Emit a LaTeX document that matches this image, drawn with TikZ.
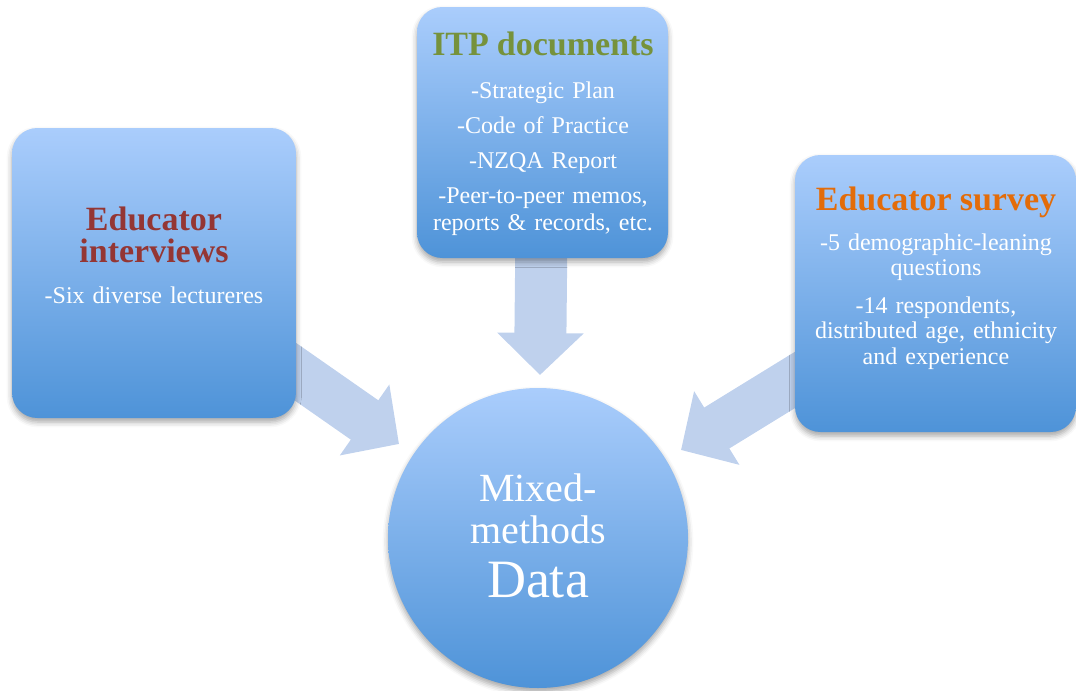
\documentclass[tikz,border=0pt]{standalone}
\usepackage{fontspec}
\setmainfont{Liberation Serif}
\usepackage{xcolor}
\usepackage{tikz}
\usetikzlibrary{calc,backgrounds,arrows.meta,shadows.blur}
\definecolor{boxtop}{HTML}{AACDFC}
\definecolor{boxbot}{HTML}{4E93D8}
\definecolor{arrowfill}{HTML}{BFD1ED}
\definecolor{hdred}{HTML}{943634}
\definecolor{hdgreen}{HTML}{76923C}
\definecolor{hdorange}{HTML}{E36C09}
\newcommand{\hdfont}{\fontsize{25.5pt}{24pt}\selectfont\bfseries}
\newcommand{\bdfont}{\normalfont\fontsize{18pt}{20pt}\selectfont}
\newcommand{\bdtext}{\bdfont\color{white}}

\begin{document}
\begin{tikzpicture}[x=0.75pt, y=-0.75pt,
  srcbox/.style={rectangle, rounded corners=19pt, top color=boxtop, bottom color=boxbot,
    blur shadow={shadow xshift=0pt, shadow yshift=-3pt, shadow opacity=35, shadow blur radius=4pt}},
  hub/.style={circle, minimum size=225pt, top color=boxtop, bottom color=boxbot,
    blur shadow={shadow xshift=0pt, shadow yshift=-3pt, shadow opacity=35, shadow blur radius=4pt}},
  blockarrow/.style={draw=arrowfill, line width=36pt, -{Triangle[length=31.5pt, width=63pt]}},
  txt/.style={align=center, text=white, inner sep=0pt, font=\bdfont}]
\useasboundingbox (0,0) rectangle (1076,690);

% the three sources and the data hub
\node[srcbox, minimum width=213pt, minimum height=217.5pt] (edu) at (154,273) {};
\node[srcbox, minimum width=188.25pt, minimum height=188.25pt] (itp) at (542.5,132.5) {};
\node[srcbox, minimum width=210.75pt, minimum height=207.75pt] (survey) at (935.5,293.5) {};
\node[hub] (data) at (538,538) {};

% tips of the block arrows, just off the hub
\coordinate (edutip) at (399,444);
\coordinate (itptip) at (540,375);
\coordinate (surveytip) at (681,450);

\begin{scope}[on background layer]
\draw[blockarrow] (edu.center) -- (edutip);
\draw[blockarrow, line width=39pt] (itp.center) -- (itptip);
\draw[blockarrow] (survey.center) -- (surveytip);
\end{scope}

% texts
\node[txt, text width=200pt] (edutxt) at (154,255)
  {\hdfont\color{hdred}Educator\\interviews\\[10.75pt]
   \bdtext -Six diverse lectureres\par};
\node[txt, text width=180pt] (itptxt) at (543,133.5)
  {\hdfont\color{hdgreen}ITP documents\\[12.25pt]
   \bdtext -Strategic Plan\\[6.25pt]
   -Code of Practice\\[6.25pt]
   -NZQA Report\\[6.25pt]
   -Peer-to-peer memos,\\reports \& records, etc.\par};
\node[txt, text width=204pt] (surveytxt) at (936,278)
  {\hdfont\color{hdorange}Educator survey\\[11pt]
   \bdtext\fontsize{18pt}{19pt}\selectfont -5 demographic-leaning\\questions\\[9.5pt]
   -14 respondents,\\distributed age, ethnicity\\and experience\par};
\node[txt, text width=200pt] (datatxt) at (538,536)
  {\fontsize{30pt}{31pt}\selectfont Mixed-\\methods\\
   \fontsize{40.5pt}{40.5pt}\selectfont Data\par};
\end{tikzpicture}
\end{document}
